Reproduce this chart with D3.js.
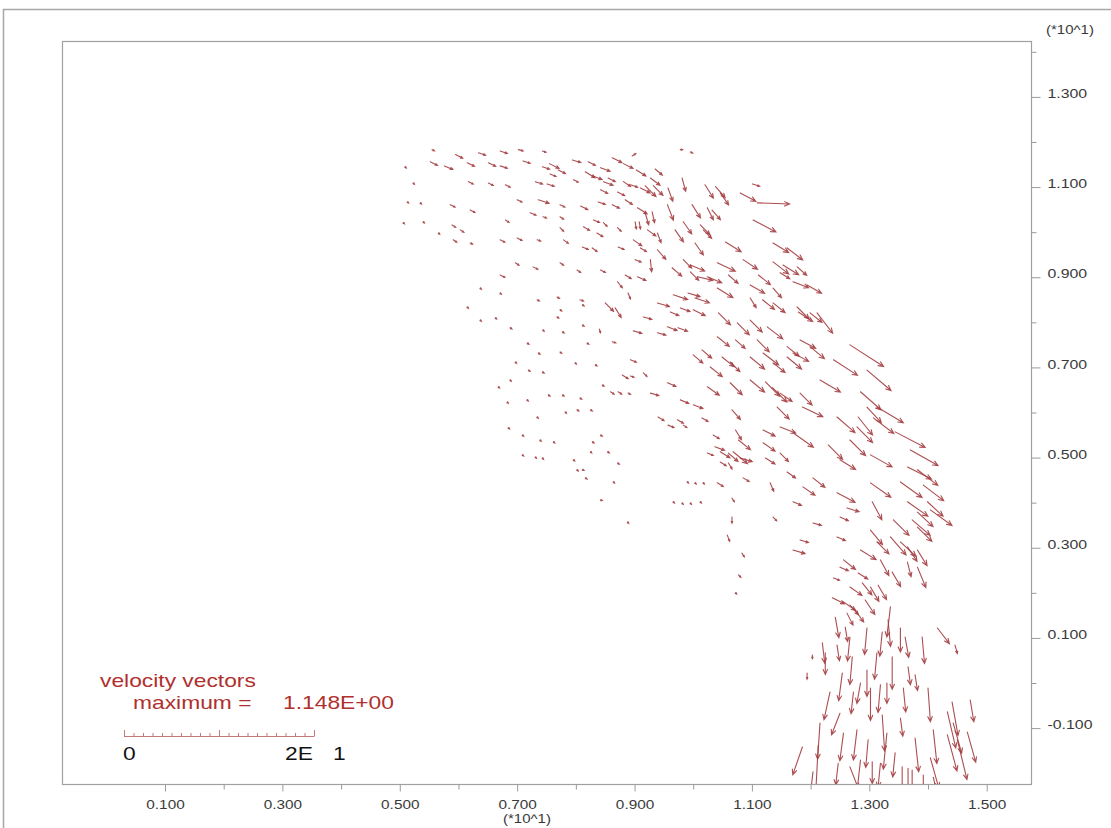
<!DOCTYPE html>
<html><head><meta charset="utf-8">
<script src="https://cdn.jsdelivr.net/npm/d3@7"></script>
<style>body{margin:0;background:#fff}svg{display:block}text{font-family:"Liberation Sans",Arial,sans-serif}</style>
</head><body>
<svg id="c" width="1111" height="828"></svg>
<script>
// ---- axis ticks (values in *10^1 m) ----
const xMajorTicks = [0.1,0.3,0.5,0.7,0.9,1.1,1.3,1.5];
const xMinorTicks = [0.2,0.4,0.6,0.8,1.0,1.2,1.4];
const yMajorTicks = [-0.1,0.1,0.3,0.5,0.7,0.9,1.1,1.3];
const yMinorTicks = [0.0,0.2,0.4,0.6,0.8,1.0,1.2,1.4];
const maxLabel = "1.148E+00";

// ---- velocity vectors: [x, y, u, v] ----
const topBand = [
[0.555,1.183,0.04,-0.02],[0.595,1.172,0.12,-0.06],[0.634,1.176,0.12,-0.04],[0.671,1.180,0.12,-0.04],
[0.702,1.183,0.08,-0.02],[0.743,1.180,0.06,-0.02],[0.896,1.169,0.06,0.04],[0.978,1.183,0.04,0],
[0.995,1.178,0.04,-0.02],[0.552,1.156,0.12,-0.06],[0.576,1.147,0.14,-0.06],[0.615,1.154,0.12,-0.06],
[0.651,1.154,0.12,-0.06],[0.671,1.147,0.12,-0.04],[0.710,1.158,0.12,-0.04],[0.743,1.145,0.12,-0.04],
[0.755,1.152,0.16,-0.08],[0.770,1.138,0.12,-0.06],[0.794,1.160,0.14,-0.04],[0.821,1.156,0.12,-0.06],
[0.842,1.143,0.16,-0.06],[0.862,1.165,0.16,-0.08],[0.881,1.152,0.16,-0.08],[0.903,1.138,0.16,-0.10],
[0.935,1.140,0.12,-0.10],[0.756,1.129,0.10,-0.04],[0.816,1.134,0.16,-0.10],[0.828,1.125,0.16,-0.06],
[0.847,1.112,0.16,-0.06],[0.855,1.120,0.12,-0.06],[0.881,1.112,0.12,-0.08],[0.927,1.120,0.16,-0.12],
[0.932,1.103,0.16,-0.16],[0.981,1.120,0.06,-0.22],[1.101,1.107,0.12,-0.04],[0.617,1.112,0.08,-0.04],
[0.651,1.109,0.08,-0.04],[0.680,1.105,0.08,-0.04],[0.731,1.112,0.12,-0.04],[0.751,1.107,0.12,-0.04],
[0.796,1.116,0.08,-0.04],[0.842,1.094,0.12,-0.06],[0.871,1.089,0.12,-0.06],[0.893,1.105,0.12,-0.04],
[0.910,1.098,0.16,-0.08],[0.918,1.103,0.18,-0.18],[0.957,1.098,0.08,-0.22],[1.020,1.105,0.14,-0.22],
[1.038,1.101,0.16,-0.18],[1.046,1.087,0.14,-0.20],[1.080,1.087,0.26,-0.14],[1.109,1.065,0.54,-0.02],
[0.586,1.061,0.08,-0.04],[0.620,1.049,0.08,-0.04],[0.700,1.072,0.08,-0.04],[0.736,1.072,0.18,-0.06],
[0.773,1.061,0.08,-0.04],[0.808,1.058,0.12,-0.06],[0.838,1.067,0.12,-0.04],[0.862,1.061,0.12,-0.06],
[0.884,1.072,0.12,-0.08],[0.905,1.054,0.16,-0.10],[0.901,1.023,0.02,-0.12],[0.908,1.023,0.02,-0.12],
[0.918,1.043,0.06,-0.20],[0.930,1.045,0.04,-0.18],[0.956,1.061,0.10,-0.26],[0.998,1.061,0.14,-0.22],
[1.024,1.054,0.10,-0.20],[1.032,1.049,0.14,-0.16],[1.102,1.027,0.38,-0.20],[0.523,1.109,0.02,-0.02],
[0.535,1.065,0.02,-0.02],[0.513,1.067,0.02,-0.02],[0.509,1.145,0.02,-0.02]
];
const upperSlow = [
[0.566,0.998,0.02,-0.02],[0.591,0.983,0.06,-0.04],[0.620,0.976,0.04,-0.02],[0.671,0.983,0.08,-0.04],
[0.700,0.987,0.08,-0.04],[0.734,0.983,0.06,-0.02],[0.779,0.983,0.08,-0.06],[0.811,0.967,0.10,-0.04],
[0.828,0.965,0.08,-0.06],[0.872,0.967,0.10,-0.04],[0.901,0.939,0.10,-0.04],[0.910,0.965,0.10,-0.06],
[0.671,0.905,0.08,-0.04],[0.697,0.932,0.06,-0.04],[0.727,0.923,0.08,-0.04],[0.773,0.932,0.06,-0.04],
[0.802,0.916,0.06,-0.04],[0.842,0.916,0.08,-0.04],[0.871,0.890,0.08,-0.10],[0.884,0.905,0.10,-0.06],
[0.905,0.901,0.14,-0.06],[0.927,0.939,0.02,-0.20],[0.637,0.876,0.02,-0.02],[0.671,0.865,0.02,-0.02],
[0.734,0.850,0.04,-0.02],[0.768,0.856,0.04,-0.02],[0.807,0.850,0.06,-0.02],[0.889,0.865,0.04,-0.10],
[0.506,1.021,0.02,-0.02],[0.540,1.023,0.02,-0.02],[0.589,1.016,0.06,-0.04],[0.603,1.005,0.06,-0.04],
[0.680,1.027,0.06,-0.04],[0.722,1.043,0.10,-0.04],[0.744,1.034,0.06,-0.02],[0.773,1.034,0.06,-0.04],
[0.773,1.010,0.06,-0.06],[0.813,1.012,0.10,-0.06],[0.830,1.027,0.10,-0.04],[0.836,0.998,0.10,-0.06],
[0.847,1.021,0.06,-0.06],[0.871,1.010,0.06,-0.06],[0.898,0.983,0.14,-0.10],[0.922,1.005,0.14,-0.10],
[0.939,0.998,0.06,-0.16],[0.969,1.005,0.14,-0.20]
];
const shearBand = [
[0.983,1.023,0.14,-0.20],[1.012,1.016,0.16,-0.16],[1.017,1.005,0.14,-0.14],[1.055,0.978,0.26,-0.16],
[1.136,0.976,0.26,-0.16],[1.160,0.965,0.26,-0.20],[1.003,0.976,0.14,-0.20],[0.939,0.961,0.14,-0.16],
[0.983,0.939,0.14,-0.14],[0.995,0.927,0.24,-0.10],[1.041,0.932,0.30,-0.14],[1.085,0.939,0.24,-0.16],
[1.136,0.934,0.26,-0.20],[1.153,0.927,0.26,-0.16],[1.177,0.923,0.16,-0.14],[1.060,0.905,0.16,-0.14],
[1.111,0.905,0.20,-0.16],[1.148,0.910,0.16,-0.10],[1.170,0.890,0.26,-0.10],[1.194,0.883,0.24,-0.14],
[0.964,0.921,0.16,-0.14],[0.995,0.912,0.14,-0.14],[1.007,0.901,0.26,-0.06],[1.024,0.901,0.24,-0.10],
[1.097,0.883,0.24,-0.14],[1.041,0.876,0.26,-0.16],[0.966,0.861,0.24,-0.08],[0.991,0.865,0.20,-0.06],
[1.003,0.854,0.24,-0.08],[1.136,0.876,0.14,-0.16],[1.097,0.854,0.10,-0.16],[1.118,0.850,0.20,-0.16],
[1.136,0.843,0.20,-0.16],[1.177,0.834,0.20,-0.20],[1.179,0.823,0.24,-0.16],[1.199,0.821,0.20,-0.16],
[1.211,0.821,0.26,-0.34],[0.939,0.843,0.20,-0.06],[0.961,0.823,0.14,-0.06],[0.978,0.832,0.16,-0.06],
[1.000,0.828,0.20,-0.10],[1.043,0.821,0.20,-0.20],[1.075,0.799,0.20,-0.20],[1.097,0.805,0.20,-0.20],
[1.126,0.790,0.26,-0.20],[0.915,0.812,0.14,-0.04],[0.939,0.777,0.14,-0.04],[0.956,0.790,0.16,-0.06],
[0.974,0.788,0.16,-0.06],[1.041,0.768,0.20,-0.16],[1.072,0.761,0.16,-0.14],[1.109,0.761,0.20,-0.20],
[1.160,0.746,0.20,-0.16],[1.182,0.761,0.26,-0.14],[1.199,0.746,0.24,-0.20],[1.267,0.750,0.56,-0.36],
[1.239,0.717,0.40,-0.26],[1.296,0.694,0.40,-0.34],[1.000,0.728,0.16,-0.14],[1.015,0.739,0.16,-0.14],
[1.029,0.701,0.20,-0.16],[1.049,0.723,0.20,-0.16],[1.063,0.712,0.16,-0.16],[1.097,0.723,0.24,-0.20],
[1.119,0.732,0.26,-0.20],[1.136,0.710,0.20,-0.16],[1.160,0.723,0.24,-0.20],[1.170,0.732,0.26,-0.14],
[1.216,0.672,0.34,-0.20],[1.024,0.657,0.20,-0.14],[1.063,0.666,0.20,-0.20],[1.097,0.672,0.24,-0.20],
[1.123,0.668,0.24,-0.24],[1.135,0.655,0.24,-0.24],[1.148,0.643,0.20,-0.14],[1.182,0.643,0.20,-0.20],
[0.956,0.666,0.14,-0.06],[0.915,0.688,0.06,-0.06],[0.927,0.643,0.14,-0.04],[0.978,0.628,0.14,-0.06],
[1.000,0.617,0.16,-0.06],[1.143,0.612,0.20,-0.20]
];
const outerBand = [
[1.285,0.646,0.34,-0.30],[1.296,0.612,0.24,-0.26],[1.313,0.612,0.44,-0.26],[1.245,0.590,0.30,-0.26],
[1.279,0.568,0.26,-0.26],[1.281,0.590,0.24,-0.30],[1.307,0.588,0.34,-0.26],[1.344,0.557,0.50,-0.26],
[1.186,0.612,0.34,-0.16],[1.170,0.555,0.34,-0.24],[1.230,0.528,0.24,-0.24],[1.250,0.495,0.26,-0.16],
[1.267,0.539,0.26,-0.26],[1.302,0.506,0.36,-0.20],[1.370,0.517,0.46,-0.26],[1.365,0.479,0.40,-0.20],
[1.382,0.473,0.34,-0.26],[1.353,0.446,0.36,-0.26],[1.392,0.439,0.34,-0.26],[1.302,0.444,0.34,-0.24],
[1.365,0.402,0.34,-0.24],[1.399,0.402,0.26,-0.24],[1.404,0.384,0.36,-0.26],[1.382,0.379,0.26,-0.24],
[1.305,0.402,0.16,-0.30],[1.341,0.362,0.26,-0.26],[1.373,0.362,0.30,-0.26],[1.382,0.346,0.24,-0.24],
[1.302,0.339,0.20,-0.24],[1.313,0.313,0.20,-0.20],[1.336,0.324,0.26,-0.30],[1.353,0.313,0.26,-0.24],
[1.365,0.302,0.16,-0.24],[1.382,0.295,0.16,-0.26],[1.285,0.295,0.26,-0.16],[1.245,0.422,0.30,-0.16],
[1.262,0.388,0.20,-0.06],[1.250,0.368,0.14,-0.06],[1.204,0.455,0.20,-0.16],[1.187,0.435,0.20,-0.14],
[1.170,0.402,0.14,-0.06],[1.160,0.468,0.14,-0.10],[1.182,0.317,0.14,-0.04],[1.170,0.295,0.20,-0.06],
[1.204,0.355,0.14,-0.04],[1.245,0.324,0.14,-0.06],[1.148,0.510,0.14,-0.14],[1.119,0.533,0.20,-0.14],
[1.148,0.568,0.26,-0.10],[1.256,0.273,0.20,-0.16],[1.131,0.444,0.06,-0.14],[1.136,0.368,0.06,-0.06],
[1.119,0.561,0.20,-0.10],[1.123,0.499,0.16,-0.10]
];
const coreSlow = [
[0.850,0.843,0.14,-0.14],[0.867,0.832,0.10,-0.16],[0.898,0.781,0.14,-0.04],[0.862,0.757,0.06,-0.02],
[0.893,0.717,0.10,-0.04],[0.879,0.683,0.10,-0.06],[0.893,0.681,0.06,-0.02],[0.859,0.646,0.06,-0.04],
[0.872,0.646,0.06,-0.04],[0.889,0.643,0.04,-0.02],[0.840,0.785,0.02,-0.06],[1.066,0.606,0.14,-0.16],
[1.015,0.588,0.10,-0.06],[1.034,0.550,0.10,-0.06],[0.940,0.590,0.10,-0.06],[0.957,0.572,0.10,-0.04],
[0.973,0.584,0.10,-0.06],[0.983,0.572,0.06,-0.04],[1.072,0.561,0.10,-0.16],[1.077,0.539,0.20,-0.16],
[1.037,0.524,0.16,-0.06],[1.046,0.513,0.16,-0.10],[1.060,0.510,0.16,-0.14],[1.068,0.513,0.24,-0.20],
[1.080,0.499,0.20,-0.06],[1.024,0.510,0.10,-0.04],[1.046,0.490,0.10,-0.06],[1.060,0.488,0.06,-0.10],
[1.085,0.455,0.10,-0.06],[1.041,0.444,0.10,-0.06],[0.990,0.446,0.02,-0.02],[1.003,0.444,0.02,-0.02],
[1.017,0.444,0.02,-0.02],[1.066,0.410,0.04,-0.06],[1.066,0.368,0.00,-0.10],[1.058,0.328,0.04,-0.10],
[1.083,0.288,0.04,-0.06],[1.077,0.240,0.04,-0.04],[1.072,0.200,0.02,-0.02],[0.966,0.402,0.02,-0.02],
[0.981,0.399,0.02,-0.02],[0.995,0.399,0.02,-0.02],[1.012,0.402,0.02,-0.02],[0.888,0.357,0.02,-0.02]
];
const stagnantDots = [
[0.828,0.535,0.03,-0.02],[0.842,0.550,0.03,-0.02],[0.825,0.513,0.02,-0.02],[0.811,0.473,0.03,-0.01],
[0.802,0.473,0.02,-0.02],[0.816,0.455,0.03,-0.02],[0.871,0.488,0.03,-0.02],[0.864,0.446,0.02,-0.02],
[0.842,0.406,0.03,-0.01],[0.854,0.513,0.03,-0.02],[0.796,0.495,0.02,-0.02],[0.773,0.828,0.03,-0.02],
[0.768,0.812,0.03,-0.02],[0.811,0.839,0.03,-0.02],[0.811,0.794,0.03,-0.02],[0.777,0.779,0.03,-0.02],
[0.744,0.783,0.02,-0.02],[0.819,0.754,0.03,-0.02],[0.773,0.734,0.03,-0.02],[0.799,0.710,0.02,-0.02],
[0.833,0.706,0.03,-0.02],[0.845,0.661,0.03,-0.02],[0.615,0.834,0.02,-0.02],[0.637,0.805,0.02,-0.02],
[0.663,0.810,0.02,-0.02],[0.688,0.788,0.03,-0.02],[0.717,0.754,0.03,-0.02],[0.736,0.732,0.03,-0.02],
[0.697,0.712,0.02,-0.02],[0.719,0.694,0.03,-0.02],[0.743,0.690,0.03,-0.02],[0.668,0.657,0.02,-0.02],
[0.688,0.672,0.02,-0.02],[0.683,0.623,0.02,-0.02],[0.717,0.628,0.02,-0.02],[0.753,0.639,0.03,-0.02],
[0.777,0.639,0.03,-0.02],[0.807,0.632,0.03,-0.02],[0.782,0.601,0.02,-0.02],[0.802,0.606,0.03,-0.02],
[0.825,0.606,0.03,-0.02],[0.734,0.590,0.02,-0.02],[0.685,0.566,0.02,-0.02],[0.709,0.550,0.02,-0.02],
[0.739,0.539,0.02,-0.02],[0.762,0.535,0.02,-0.02],[0.731,0.501,0.02,-0.02],[0.709,0.506,0.02,-0.02],
[0.743,0.499,0.02,-0.02]
];
const jetZone = [
[1.319,0.273,0.14,-0.26],[1.365,0.268,0.06,-0.24],[1.382,0.257,0.14,-0.34],[1.339,0.246,0.14,-0.24],
[1.281,0.244,0.16,-0.10],[1.250,0.257,0.14,-0.06],[1.239,0.233,0.10,-0.04],[1.288,0.222,0.16,-0.20],
[1.302,0.213,0.14,-0.24],[1.267,0.213,0.20,-0.14],[1.315,0.217,0.14,-0.24],[1.237,0.189,0.20,-0.10],
[1.256,0.180,0.20,-0.14],[1.267,0.173,0.14,-0.16],[1.293,0.184,0.16,-0.24],[1.276,0.162,0.14,-0.20],
[1.262,0.155,0.10,-0.20],[1.242,0.146,0.06,-0.34],[1.259,0.124,0.04,-0.24],[1.336,0.169,-0.06,-0.50],
[1.332,0.140,0.04,-0.44],[1.296,0.122,-0.04,-0.44],[1.322,0.113,-0.04,-0.40],[1.353,0.122,0.00,-0.40],
[1.361,0.102,0.06,-0.34],[1.390,0.102,0.04,-0.44],[1.416,0.122,0.20,-0.26],[1.446,0.084,0.04,-0.14],
[1.267,0.102,-0.04,-0.40],[1.220,0.089,0.04,-0.34],[1.225,0.067,0.00,-0.36],[1.245,0.084,0.04,-0.26],
[1.203,0.062,0.00,-0.06],[1.194,0.022,0.00,-0.10],[1.271,0.058,-0.04,-0.46],[1.313,0.067,-0.04,-0.44],
[1.339,0.058,0.00,-0.54],[1.366,0.036,0.04,-0.30],[1.378,0.018,0.04,-0.26],[1.296,0.029,0.00,-0.44],
[1.285,0.000,-0.06,-0.34],[1.254,0.022,-0.06,-0.46],[1.233,-0.020,-0.10,-0.46],[1.273,-0.020,-0.04,-0.36],
[1.302,-0.011,0.00,-0.54],[1.319,-0.004,-0.04,-0.46],[1.330,0.000,0.00,-0.34],[1.358,-0.011,0.04,-0.40],
[1.400,-0.011,0.04,-0.56],[1.441,-0.042,0.10,-0.56],[1.472,-0.038,0.06,-0.36],[1.433,-0.064,0.14,-0.60],
[1.443,-0.089,0.14,-0.50],[1.467,-0.109,0.14,-0.50],[1.409,-0.104,0.06,-0.56],[1.433,-0.115,0.16,-0.60],
[1.450,-0.126,0.16,-0.66],[1.378,-0.122,0.06,-0.56],[1.404,-0.166,0.14,-0.50],[1.353,-0.078,0.04,-0.30],
[1.322,-0.071,0.04,-0.60],[1.330,-0.111,-0.06,-0.60],[1.250,-0.067,-0.14,-0.36],[1.216,-0.089,-0.04,-0.60],
[1.256,-0.111,-0.06,-0.46],[1.279,-0.104,-0.06,-0.50],[1.298,-0.126,-0.04,-0.46],[1.186,-0.142,-0.16,-0.46],
[1.213,-0.138,-0.04,-0.76],[1.247,-0.178,-0.04,-0.36],[1.267,-0.186,0.14,-0.36],[1.285,-0.171,-0.06,-0.54],
[1.305,-0.175,0.00,-0.36],[1.319,-0.178,-0.04,-0.40],[1.344,-0.155,-0.04,-0.40],[1.356,-0.186,0.00,-0.46],
[1.366,-0.189,0.00,-0.44],[1.373,-0.193,0.00,-0.40],[1.392,-0.204,0.00,-0.30],[1.409,-0.209,0.06,-0.26],
[1.204,-0.197,-0.04,-0.36]
];

// ---- layout ----
const svg = d3.select("#c");
const W = 1111, H = 828;
const frame = {l:62, t:41, r:1031, b:784};
const x = d3.scaleLinear().domain([-0.0755, 1.5755]).range([frame.l, frame.r]);
const y = d3.scaleLinear().domain([-0.224, 1.424]).range([frame.b, frame.t]);
const vLen = d3.scaleLinear().domain([0, 1]).range([0, 60]); // px per m/s

const stretch = (sel, k) => sel.each(function(){
  const w = this.getComputedTextLength();
  d3.select(this).attr("textLength", w*k).attr("lengthAdjust","spacingAndGlyphs");
});

// outer border
svg.append("path").attr("d", `M3.5,${H} V9.5 H${W}`).attr("fill","none").attr("stroke","#a8a8a8").attr("stroke-width",1.5);
// plot frame
svg.append("rect").attr("x",frame.l+0.5).attr("y",frame.t+0.5).attr("width",frame.r-frame.l).attr("height",frame.b-frame.t)
  .attr("fill","none").attr("stroke","#a0a0a0").attr("stroke-width",1.2);

svg.append("defs").append("clipPath").attr("id","clip").append("rect")
  .attr("x",frame.l+1).attr("y",frame.t+1).attr("width",frame.r-frame.l-1).attr("height",frame.b-frame.t-1);

// axes
const fmt = d => d.toFixed(3);
function styleAxis(g){ g.select(".domain").remove(); g.selectAll("line").attr("stroke","#9a9a9a"); g.selectAll("text").attr("fill","#3a3a3a").style("font-size","13px").attr("font-family",null); }
const ry = svg.append("g").attr("transform",`translate(${frame.r+0.5},0)`)
  .call(d3.axisRight(y).tickValues(yMajorTicks).tickSize(9).tickPadding(7).tickFormat(fmt)).call(styleAxis);
ry.selectAll("text").attr("dy","0.05em");
stretch(ry.selectAll("text"), 1.22);
svg.append("g").attr("transform",`translate(${frame.r+0.5},0)`)
  .call(d3.axisRight(y).tickValues(yMinorTicks).tickSize(5).tickFormat("")).call(styleAxis);
const bx = svg.append("g").attr("transform",`translate(0,${frame.b+0.5})`)
  .call(d3.axisBottom(x).tickValues(xMajorTicks).tickSize(7).tickPadding(8).tickFormat(fmt)).call(styleAxis);
stretch(bx.selectAll("text"), 1.18);
svg.append("g").attr("transform",`translate(0,${frame.b+0.5})`)
  .call(d3.axisBottom(x).tickValues(xMinorTicks).tickSize(5).tickFormat("")).call(styleAxis);

const u1 = svg.append("text").attr("x",1070).attr("y",34).attr("text-anchor","middle").attr("fill","#3a3a3a").style("font-size","12px").text("(*10^1)");
const u2 = svg.append("text").attr("x",527).attr("y",823).attr("text-anchor","middle").attr("fill","#3a3a3a").style("font-size","12px").text("(*10^1)");
stretch(u1,1.25); stretch(u2,1.25);

// vectors
const allVectors = [].concat(topBand, upperSlow, shearBand, outerBand, coreSlow, stagnantDots, jetZone);
const vg = svg.append("g").attr("clip-path","url(#clip)");
vg.selectAll("path").data(allVectors).join("path")
  .attr("d", ([px,py,u,v]) => {
    const x0 = x(px), y0 = y(py), dx = vLen(u), dy = -vLen(v);
    const x1 = x0+dx, y1 = y0+dy, L = Math.hypot(dx,dy);
    const h = Math.max(1.6, Math.min(5.5, L*0.3));
    const a = Math.atan2(dy,dx), s = 0.42;
    const hx1 = x1 - h*Math.cos(a-s), hy1 = y1 - h*Math.sin(a-s);
    const hx2 = x1 - h*Math.cos(a+s), hy2 = y1 - h*Math.sin(a+s);
    return `M${x0},${y0}L${x1},${y1}M${hx1},${hy1}L${x1},${y1}L${hx2},${hy2}`;
  })
  .attr("fill","none").attr("stroke","#a33b3e").attr("stroke-width",1.1).attr("stroke-linecap","round").attr("opacity",0.9);

// legend
const red = "#b0302e";
const t1 = svg.append("text").attr("x",100).attr("y",687).attr("fill",red).style("font-size","19px").text("velocity vectors");
const t2 = svg.append("text").attr("x",133).attr("y",709).attr("fill",red).style("font-size","19px").text("maximum =");
const t3 = svg.append("text").attr("x",283).attr("y",709).attr("fill",red).style("font-size","19px").text(maxLabel);
[t1,t2,t3].forEach(t => stretch(t,1.2));
const lg = d3.scaleLinear().domain([0,20]).range([124,314]);
const bar = svg.append("g").attr("stroke","#c07a7a").attr("stroke-width",1);
bar.append("line").attr("x1",lg(0)).attr("x2",lg(20)).attr("y1",736.5).attr("y2",736.5);
bar.selectAll("line.t").data(d3.range(21)).join("line").attr("class","t")
  .attr("x1",d=>lg(d)+0.5).attr("x2",d=>lg(d)+0.5).attr("y1",736.5).attr("y2",d => (d%10===0)?730:733);
const z0 = svg.append("text").attr("x",123).attr("y",760).attr("fill","#111").style("font-size","19px").text("0");
const z1 = svg.append("text").attr("x",285).attr("y",760).attr("fill","#111").style("font-size","19px").text("2E");
const z2 = svg.append("text").attr("x",333).attr("y",760).attr("fill","#111").style("font-size","19px").text("1");
[z0,z1,z2].forEach(t => stretch(t,1.2));
</script>
</body></html>
